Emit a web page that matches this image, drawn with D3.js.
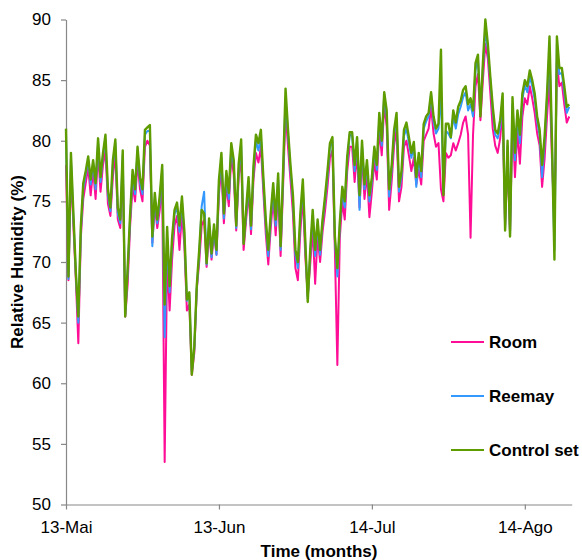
<!DOCTYPE html>
<html lang="en">
<head>
<meta charset="UTF-8" />
<title>Relative Humidity</title>
<style>
  body { margin: 0; background: #fff; }
  svg text { font-family: Arial, "Liberation Sans", sans-serif; }
</style>
</head>
<body>
<script src="https://d3js.org/d3.v7.min.js"></script>
<script>

var w = 582;
var h = 560;

// series names and colours
var seriesNames = ["Room", "Reemay", "Control set"];
var seriesColors = ["#ff0d96", "#3399ff", "#5e9c00"];

// x axis ticks
var tickDates = [new Date(Date.UTC(2011, 4, 13)), new Date(Date.UTC(2011, 5, 13)),
                 new Date(Date.UTC(2011, 6, 14)), new Date(Date.UTC(2011, 7, 14))];
var tickLabels = ["13-Mai", "13-Jun", "14-Jul", "14-Ago"];
var yTicks = [50, 55, 60, 65, 70, 75, 80, 85, 90];

// readings every 12 hours from 13 May
var startTime = Date.UTC(2011, 4, 13);
var stepHours = 12;

var room = [
  78.0, 68.5, 77.5, 73.0, 68.5, 63.3, 72.0, 75.2, 76.5, 77.8,
  75.5, 77.6, 75.2, 79.0, 75.8, 78.0, 79.2, 74.8, 73.8, 77.0,
  79.0, 73.5, 72.8, 78.0, 65.5, 68.2, 73.0, 76.3, 75.0, 78.3,
  76.0, 75.0, 79.5, 80.0, 79.6, 71.6, 74.6, 72.8, 74.3, 76.5,
  53.5, 70.5, 66.0, 70.2, 73.0, 73.8, 71.0, 74.0, 71.3, 66.0,
  66.5, 60.7, 62.5, 67.7, 70.0, 73.0, 73.5, 69.6, 72.6, 70.2,
  72.4, 70.6, 75.6, 77.8, 73.2, 76.4, 74.6, 78.8, 77.2, 72.6,
  77.0, 78.8, 71.0, 73.4, 75.8, 72.3, 76.8, 79.0, 78.2, 79.5,
  75.8, 72.3, 69.8, 72.8, 75.2, 72.2, 76.0, 70.5, 76.2, 82.5,
  79.5, 76.8, 74.0, 69.5, 68.5, 72.5, 75.5, 70.5, 67.2, 69.8,
  72.8, 68.2, 72.2, 70.0, 72.5, 74.2, 76.2, 78.6, 79.2, 71.0,
  61.5, 72.0, 75.0, 73.5, 77.5, 79.5, 79.5, 76.6, 79.0, 74.5,
  78.8, 75.2, 77.3, 73.7, 75.8, 78.3, 76.8, 81.0, 78.8, 83.0,
  81.2, 74.3, 76.6, 79.6, 81.0, 75.0, 76.2, 79.5, 80.0, 78.8,
  77.5, 78.6, 76.4, 77.6, 76.4, 80.0, 80.5, 81.0, 82.8, 80.6,
  79.5, 79.8, 76.0, 75.0, 79.0, 78.6, 78.8, 79.8, 79.2, 79.8,
  80.5, 81.5, 82.0, 80.5, 72.0, 80.5, 84.5, 85.5, 81.7, 85.0,
  88.0, 86.8, 84.0, 81.0, 79.6, 79.0, 80.2, 82.5, 73.0, 78.5,
  72.5, 81.8, 77.0, 80.8, 78.1, 82.0, 83.5, 83.0, 84.5, 83.5,
  82.3, 80.6, 79.6, 76.2, 78.5, 82.0, 85.0, 78.5, 73.2, 86.5,
  84.5, 84.8, 83.0, 81.5, 82.0
];

var reemay = [
  80.6, 68.6, 78.5, 73.6, 69.0, 65.0, 72.5, 76.0, 77.2, 78.4,
  76.4, 78.2, 76.0, 79.8, 76.6, 78.8, 80.0, 75.5, 74.2, 78.0,
  79.8, 74.0, 73.2, 78.8, 65.6, 69.2, 73.6, 77.2, 75.6, 79.2,
  76.6, 75.6, 80.5, 80.8, 80.8, 71.3, 75.3, 73.2, 75.0, 77.6,
  63.8, 72.0, 67.5, 71.5, 74.0, 74.5, 72.5, 75.0, 72.0, 66.8,
  67.2, 61.0, 62.8, 67.8, 70.6, 74.6, 75.8, 69.8, 73.2, 70.4,
  72.8, 70.6, 76.3, 78.6, 73.6, 77.0, 75.2, 79.5, 78.0, 72.8,
  77.6, 79.6, 71.6, 73.8, 76.5, 72.7, 77.5, 80.0, 79.2, 80.3,
  76.5, 73.0, 70.5, 73.5, 76.0, 73.0, 76.8, 71.0, 77.0, 83.5,
  80.5, 77.6, 75.0, 70.6, 69.5, 73.5, 76.3, 71.4, 67.0, 70.6,
  73.8, 70.5, 73.0, 70.6, 73.2, 75.0, 77.0, 79.5, 80.0, 71.8,
  68.8, 73.0, 75.8, 74.5, 78.3, 80.5, 80.4, 77.5, 80.0, 74.3,
  79.6, 76.0, 78.0, 75.0, 76.6, 79.2, 77.6, 81.8, 79.6, 83.8,
  82.0, 75.4, 77.5, 80.5, 81.8, 75.8, 77.0, 80.4, 81.0, 79.8,
  78.6, 79.5, 76.2, 78.6, 77.0, 81.0, 81.6, 82.0, 83.8, 81.6,
  80.6, 81.0, 84.0, 75.8, 80.8, 80.6, 80.2, 82.0, 81.0, 82.2,
  82.8, 83.6, 84.0, 82.5, 83.0, 82.0, 85.8, 86.8, 82.5, 86.0,
  89.2, 87.5, 85.0, 82.4, 80.5, 80.2, 81.2, 83.4, 72.8, 79.6,
  72.3, 83.0, 78.4, 82.0, 79.8, 83.4, 84.6, 84.0, 85.3, 84.5,
  83.4, 81.6, 80.4, 77.0, 79.8, 83.4, 87.5, 79.6, 71.0, 88.0,
  85.5, 85.6, 84.0, 82.3, 82.8
];

var control = [
  81.0, 68.8, 79.0, 74.0, 69.1, 65.5, 72.9, 76.5, 77.5, 78.7,
  76.8, 78.4, 76.5, 80.2, 77.0, 79.0, 80.5, 76.0, 74.5, 78.4,
  80.1, 74.5, 73.5, 79.2, 65.5, 69.5, 74.0, 77.6, 76.0, 79.5,
  77.0, 76.0, 80.9, 81.1, 81.3, 72.1, 75.7, 73.5, 75.5, 78.0,
  66.5, 72.9, 68.0, 72.0, 74.3, 74.9, 73.0, 75.4, 72.5, 66.9,
  67.5, 60.7, 63.0, 68.0, 71.0, 74.3, 74.0, 69.9, 73.6, 70.7,
  73.1, 71.0, 76.8, 79.0, 74.0, 77.5, 75.7, 79.8, 78.4, 73.0,
  78.1, 80.1, 71.5, 74.3, 77.0, 73.0, 77.9, 80.5, 79.8, 80.9,
  77.0, 73.5, 71.0, 74.0, 76.5, 73.5, 77.3, 71.3, 77.5, 84.3,
  80.9, 78.0, 75.5, 71.0, 70.0, 74.0, 76.8, 71.8, 66.7, 71.0,
  74.3, 71.0, 73.5, 71.0, 73.5, 75.4, 77.5, 79.8, 80.3, 72.1,
  69.5, 73.3, 76.2, 75.0, 78.7, 80.7, 80.7, 78.0, 80.3, 75.5,
  80.0, 76.4, 78.4, 75.5, 77.0, 79.5, 78.0, 82.3, 80.0, 84.0,
  82.5, 76.0, 77.9, 80.9, 82.3, 76.2, 77.5, 80.9, 81.5, 80.3,
  79.0, 79.9, 77.0, 79.0, 77.5, 81.4, 82.0, 82.3, 84.0, 82.0,
  81.0, 81.4, 87.5, 75.5, 81.4, 81.4, 80.3, 82.5, 81.5, 82.8,
  83.3, 84.2, 84.5, 83.0, 83.5, 82.5, 86.4, 87.1, 82.0, 86.4,
  90.0, 88.0, 85.3, 82.8, 80.9, 80.6, 81.7, 83.9, 72.6, 80.0,
  72.1, 83.6, 79.0, 82.5, 80.5, 83.9, 85.0, 84.5, 85.8, 85.0,
  83.9, 82.0, 80.9, 78.0, 80.3, 83.9, 88.6, 80.0, 70.2, 88.6,
  86.0, 86.0, 84.5, 82.8, 83.0
];

var allSeries = [room, reemay, control];

function timeAt(i) {
  return new Date(startTime + i * stepHours * 3600 * 1000);
}

var svg = d3.select("body").append("svg")
            .attr("width", w)
            .attr("height", h);

var x = d3.scaleUtc()
          .domain([new Date(startTime), new Date(startTime + 102.5 * 24 * 3600 * 1000)])
          .range([66, 571.7]);

var y = d3.scaleLinear()
          .domain([50, 90])
          .range([504.5, 19.5]);

// axes
var xAxis = d3.axisBottom(x)
              .tickValues(tickDates)
              .tickFormat(function(d, i) { return tickLabels[i]; })
              .tickSize(5)
              .tickSizeOuter(0)
              .tickPadding(11);

var yAxis = d3.axisLeft(y)
              .tickValues(yTicks)
              .tickSize(5)
              .tickSizeOuter(0)
              .tickPadding(10);

var gx = svg.append("g")
            .attr("transform", "translate(0," + y(50) + ")")
            .call(xAxis);

var gy = svg.append("g")
            .attr("transform", "translate(" + x(new Date(startTime)) + ",0)")
            .call(yAxis);

[gx, gy].forEach(function(g) {
  g.selectAll("path, line").attr("stroke", "#888888").attr("stroke-width", 1.2);
  g.selectAll("text").attr("fill", "#000").style("font-size", "17px");
});

// lines
var line = d3.line()
             .x(function(d, i) { return x(timeAt(i)); })
             .y(function(d) { return y(d); });

allSeries.forEach(function(s, k) {
  svg.append("path")
     .datum(s)
     .attr("fill", "none")
     .attr("stroke", seriesColors[k])
     .attr("stroke-width", k == 2 ? 2.4 : 2)
     .attr("stroke-linejoin", "round")
     .attr("d", line);
});

// axis titles
svg.append("text")
   .attr("x", 319)
   .attr("y", 557)
   .attr("text-anchor", "middle")
   .style("font-size", "17px")
   .style("font-weight", "bold")
   .text("Time (months)");

svg.append("text")
   .attr("transform", "translate(23,262) rotate(-90)")
   .attr("text-anchor", "middle")
   .style("font-size", "17px")
   .style("font-weight", "bold")
   .text("Relative Humidity (%)");

// legend
var legend = svg.selectAll("g.legend")
                .data(seriesNames)
                .enter()
                .append("g")
                .attr("class", "legend")
                .attr("transform", function(d, i) { return "translate(451," + (342 + i * 54) + ")"; });

legend.append("line")
      .attr("x1", 0)
      .attr("x2", 33)
      .attr("stroke", function(d, i) { return seriesColors[i]; })
      .attr("stroke-width", 2);

legend.append("text")
      .attr("x", 38)
      .attr("dy", "0.35em")
      .style("font-size", "17px")
      .style("font-weight", "bold")
      .text(function(d) { return d; });

</script>
</body>
</html>
